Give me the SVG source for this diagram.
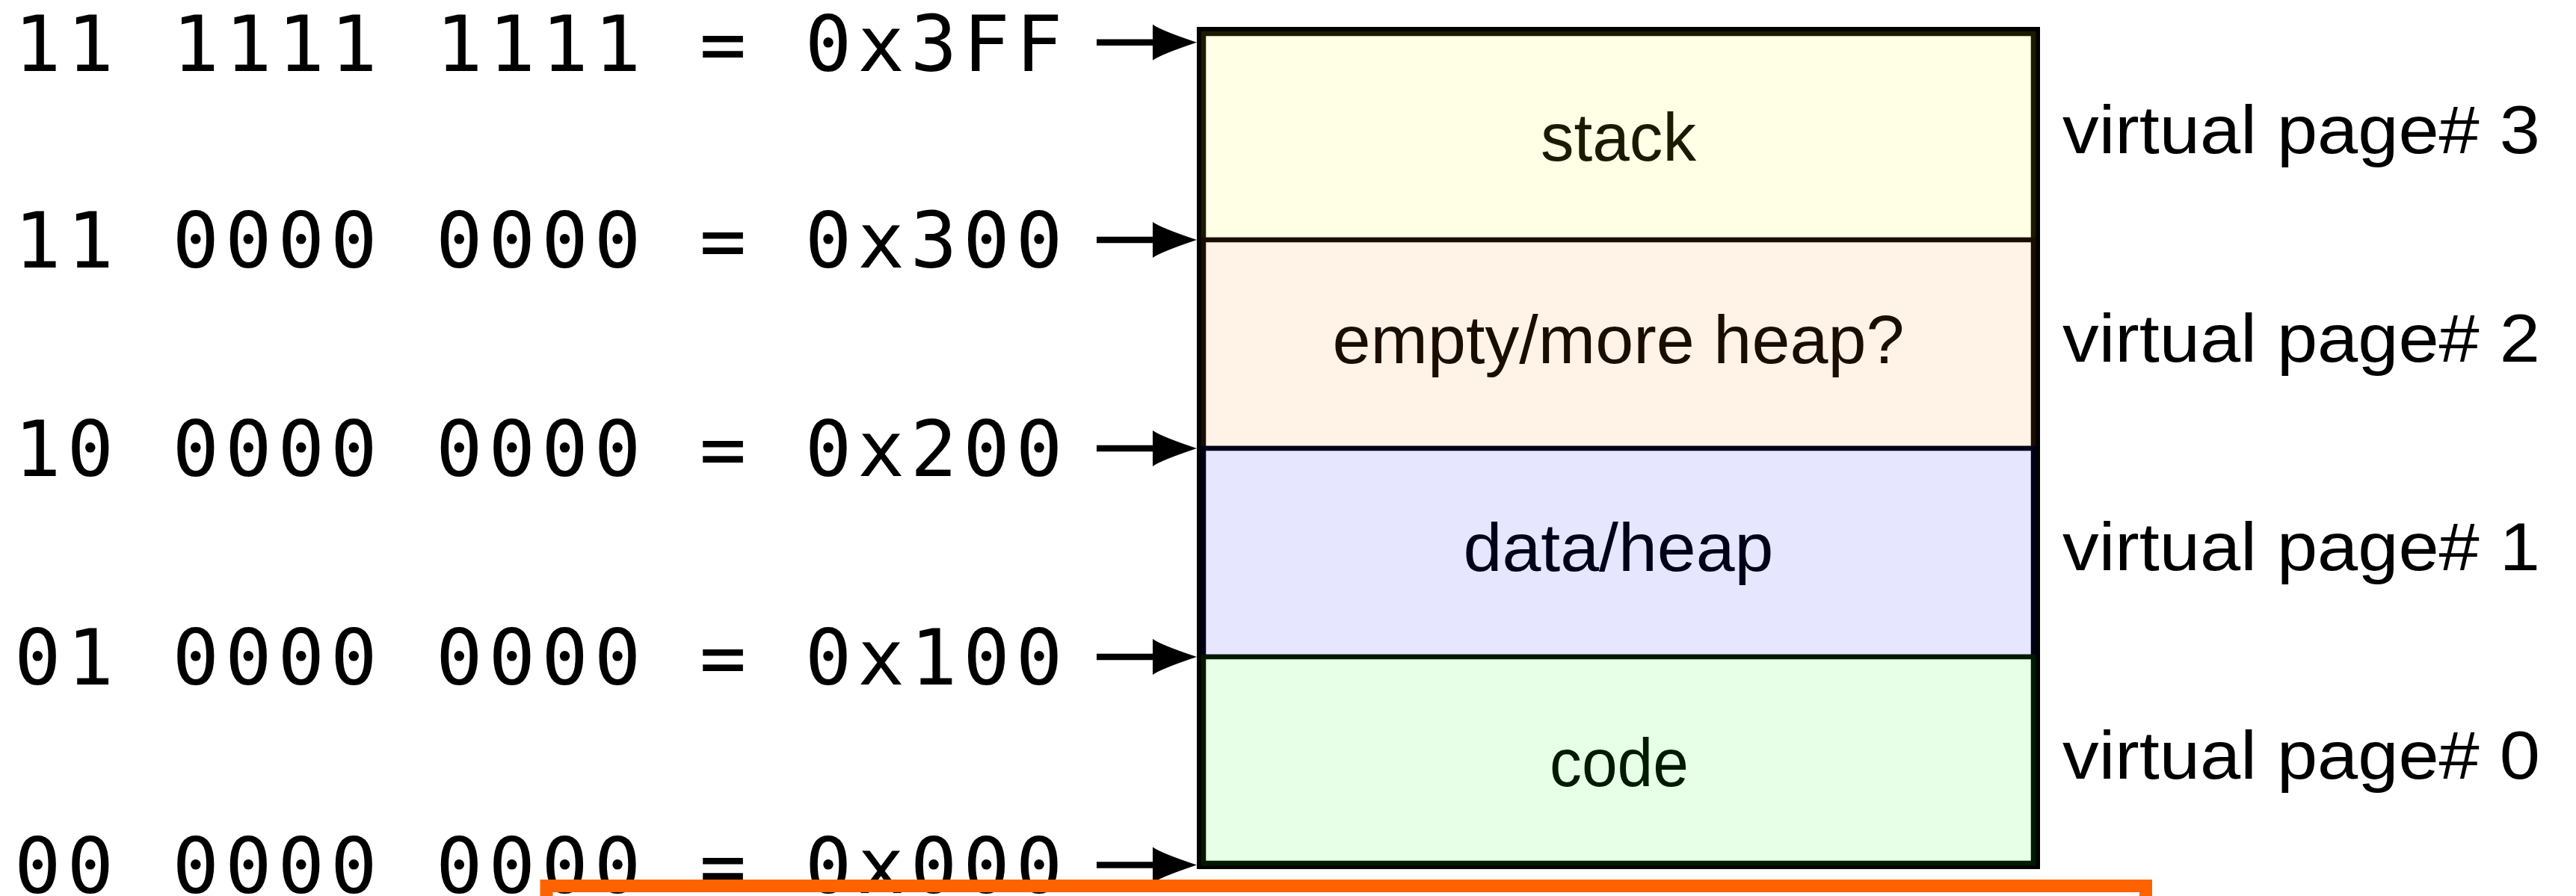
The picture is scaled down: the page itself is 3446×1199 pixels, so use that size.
<svg xmlns="http://www.w3.org/2000/svg" width="3446" height="1199" viewBox="0 0 3446 1199">
<style>
.addr{font-family:"DejaVu Sans Mono",monospace;font-size:104px;letter-spacing:7.9px;fill:#000}
.lbl{font-family:"Liberation Sans",Arial,sans-serif;font-size:91px;text-anchor:middle}
.pg{font-family:"Liberation Sans",Arial,sans-serif;font-size:91px;fill:#000}
.seg{stroke-width:6.5}
.arr{stroke:#000;stroke-width:8.5;fill:none;marker-end:url(#ah)}
</style>
<defs>
<marker id="ah" markerUnits="userSpaceOnUse" viewBox="-60 -25 61 50" markerWidth="61" markerHeight="50" refX="-51" refY="0" orient="auto">
<path d="M0,0 Q-48,-16 -59,-24 L-59,24 Q-48,16 0,0 Z" fill="#000"/>
</marker>
</defs>
<rect x="0" y="0" width="3446" height="1199" fill="#fff"/>
<g id="outline">
<rect x="1607" y="42" width="1116" height="1115" fill="none" stroke="#000" stroke-width="12"/>
</g>
<g id="stack">
<rect class="seg" x="1610" y="45" width="1110" height="276" fill="#ffffe6" stroke="#1a1a00"/>
<text class="lbl" x="2165" y="215" fill="#1a1a00" textLength="208" lengthAdjust="spacingAndGlyphs">stack</text>
<text class="pg" x="2759" y="205" textLength="639" lengthAdjust="spacingAndGlyphs">virtual page# 3</text>
</g>
<g id="heap">
<rect class="seg" x="1610" y="321" width="1110" height="279" fill="#fff2e6" stroke="#1a0d00"/>
<text class="lbl" x="2165" y="486" fill="#1a0d00" textLength="765" lengthAdjust="spacingAndGlyphs">empty/more heap?</text>
<text class="pg" x="2759" y="484" textLength="639" lengthAdjust="spacingAndGlyphs">virtual page# 2</text>
</g>
<g id="data">
<rect class="seg" x="1610" y="600" width="1110" height="279" fill="#e6e6ff" stroke="#00001a"/>
<text class="lbl" x="2165" y="764" fill="#00001a" textLength="415" lengthAdjust="spacingAndGlyphs">data/heap</text>
<text class="pg" x="2759" y="763" textLength="639" lengthAdjust="spacingAndGlyphs">virtual page# 1</text>
</g>
<g id="code">
<rect class="seg" x="1610" y="879" width="1110" height="276" fill="#e6ffe6" stroke="#001a00"/>
<text class="lbl" x="2166" y="1052" fill="#001a00" textLength="186" lengthAdjust="spacingAndGlyphs">code</text>
<text class="pg" x="2759" y="1042" textLength="639" lengthAdjust="spacingAndGlyphs">virtual page# 0</text>
</g>
<g id="addr3ff"><text class="addr" x="19" y="95">11 1111 1111 = 0x3FF</text></g>
<g id="addr300"><text class="addr" x="19" y="358">11 0000 0000 = 0x300</text></g>
<g id="addr200"><text class="addr" x="19" y="637">10 0000 0000 = 0x200</text></g>
<g id="addr100"><text class="addr" x="19" y="916">01 0000 0000 = 0x100</text></g>
<g id="addr000"><text class="addr" x="19" y="1195">00 0000 0000 = 0x000</text></g>
<g id="connectors">
<line class="arr" x1="1467" y1="56.7" x2="1550" y2="56.7"/>
<line class="arr" x1="1467" y1="321" x2="1550" y2="321"/>
<line class="arr" x1="1467" y1="600" x2="1550" y2="600"/>
<line class="arr" x1="1467" y1="879" x2="1550" y2="879"/>
<line class="arr" x1="1467" y1="1157.5" x2="1550" y2="1157.5"/>
</g>
<g id="highlight">
<rect x="731" y="1185.5" width="2139.5" height="120" fill="none" stroke="#ff6300" stroke-width="17"/>
</g>
</svg>
